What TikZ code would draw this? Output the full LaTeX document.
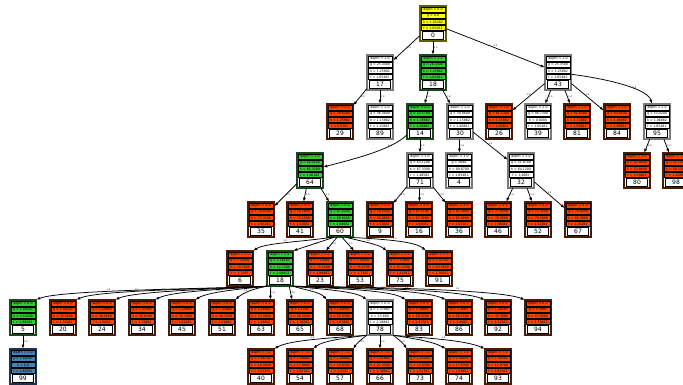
\documentclass[tikz,border=0pt]{standalone}
\usepackage{fontspec}
\setmainfont{DejaVu Sans}
\usetikzlibrary{arrows.meta}
\definecolor{ofill}{HTML}{FF4500}
\definecolor{oframe}{HTML}{4A1C05}
\definecolor{gfill}{HTML}{32CD32}
\definecolor{gframe}{HTML}{1A4A1A}
\definecolor{wfill}{HTML}{FFFFFF}
\definecolor{wframe}{HTML}{7A7A7A}
\definecolor{yfill}{HTML}{FFFF00}
\definecolor{yframe}{HTML}{5E5E10}
\definecolor{bfill}{HTML}{4682B4}
\definecolor{bframe}{HTML}{1E3348}
% #1 name, #2 x, #3 top, #4 kind, #5 number, #6 depth, #7 g, #8 h, #9 f
\newcommand{\tn}[9]{%
\node[tframe, draw=#4frame] (#1) at (#2,#3+17.5) {};
\node[rowbox, fill=#4fill] at (#2,#3+4) {depth = #6};
\node[rowbox, fill=#4fill] at (#2,#3+10) {g = #7};
\node[rowbox, fill=#4fill] at (#2,#3+16) {h = #8};
\node[rowbox, fill=#4fill] at (#2,#3+22) {f = #9};
\node[numbox] at (#2,#3+29.5) {#5};
}
\begin{document}
\begin{tikzpicture}[x=1pt, y=-1pt,
  tframe/.style={line width=1.2pt, fill=white, minimum width=26pt, minimum height=35pt, inner sep=0pt, outer sep=0.3pt},
  rowbox/.style={draw=black, line width=0.35pt, minimum width=24pt, minimum height=5pt, inner sep=0pt, font=\fontsize{3.2}{3.5}\selectfont},
  numbox/.style={draw=black, fill=white, line width=0.9pt, minimum width=21pt, minimum height=8pt, inner sep=0pt, font=\fontsize{6}{7}\selectfont},
  conn/.style={-{Latex[length=4pt,width=3pt]}, line width=0.75pt},
  elab/.style={font=\fontsize{2.2}{2.4}\selectfont, inner sep=0.6pt}]
\useasboundingbox (0,0) rectangle (683,385);
\fill[white] (0,0) rectangle (683,385);
\clip (0,0) rectangle (683,385);
% level 0
\tn{n0}{433}{6}{y}{0}{0.0}{0.0}{1.65482}{1.65482}
% level 1
\tn{n17}{380}{55}{w}{17}{1.0}{25.4400}{1.25882}{1.65482}
\tn{a18}{433}{55}{g}{18}{1.0}{26.3400}{1.25882}{1.65482}
\tn{n43}{558}{55}{w}{43}{1.0}{25.3500}{1.25882}{1.65482}
% level 2
\tn{n29}{340}{104}{o}{29}{2.0}{28.6200}{1.25882}{0.5582}
\tn{n89}{380}{104}{w}{89}{2.0}{36.4800}{1.15882}{1.15882}
\tn{n14}{420}{104}{g}{14}{2.0}{33.5700}{1.38882}{1.38882}
\tn{n30}{460}{104}{w}{30}{2.0}{34.8600}{1.15882}{1.46882}
\tn{n26}{499}{104}{o}{26}{2.0}{61.1300}{1.55882}{1.56882}
\tn{n39}{538}{104}{w}{39}{2.0}{46.7300}{0.0000}{1.65482}
\tn{n81}{577}{104}{o}{81}{2.0}{61.6200}{1.55882}{1.55882}
\tn{n84}{617}{104}{o}{84}{2.0}{63.0100}{1.86882}{1.36882}
\tn{n95}{657}{104}{w}{95}{2.0}{53.4200}{1.06882}{1.65482}
% level 3
\tn{n64}{310}{153}{g}{64}{3.0}{60.4100}{85.3200}{1.46182}
\tn{n71}{420}{153}{w}{71}{3.0}{63.1100}{67.3300}{1.48582}
\tn{n4}{459}{153}{w}{4}{3.0}{5680}{89.8700}{1.65482}
\tn{n32}{521}{153}{w}{32}{3.0}{51.8700}{64.1200}{1.4682}
\tn{n80}{637}{153}{o}{80}{3.0}{52.8600}{52.8600}{1.53882}
\tn{n98}{676}{153}{o}{98}{3.0}{31.1200}{58.2300}{1.12882}
% level 4
\tn{n35}{261}{202}{o}{35}{4.0}{78.8200}{77.3200}{1.95282}
\tn{n41}{300}{202}{o}{41}{4.0}{76.2800}{75.1500}{1.31682}
\tn{n60}{340}{202}{g}{60}{4.0}{67.4200}{68.8200}{1.08682}
\tn{n9}{380}{202}{o}{9}{4.0}{78.2500}{88.0800}{1.51682}
\tn{n16}{419}{202}{o}{16}{4.0}{67.1100}{67.9800}{1.93682}
\tn{n36}{459}{202}{o}{36}{4.0}{81.3800}{65.8800}{1.67382}
\tn{n46}{498}{202}{o}{46}{4.0}{77.9500}{76.5600}{1.58682}
\tn{n52}{538}{202}{o}{52}{4.0}{71.3200}{79.5800}{1.51382}
\tn{n67}{578}{202}{o}{67}{4.0}{76.8200}{66.3800}{1.15282}
% level 5
\tn{n6}{240}{251}{o}{6}{5.0}{1.32082}{18.7600}{1.7583}
\tn{b18}{280}{251}{g}{18}{5.0}{1.16182}{12.7300}{1.08852}
\tn{n23}{320}{251}{o}{23}{5.0}{1.14082}{70.5600}{4.88882}
\tn{n53}{360}{251}{o}{53}{5.0}{1.40882}{76.6700}{1.7382}
\tn{n75}{400}{251}{o}{75}{5.0}{1.14882}{67.4300}{1.43382}
\tn{n91}{439}{251}{o}{91}{5.0}{1.47082}{64.9600}{1.76082}
% level 6
\tn{n5}{23}{300}{g}{5}{6.0}{1.89582}{5.54200}{1.89582}
\tn{n20}{63}{300}{o}{20}{6.0}{1.86582}{35.6800}{1.79282}
\tn{n24}{102}{300}{o}{24}{6.0}{1.20882}{38.5600}{1.5682}
\tn{n34}{142}{300}{o}{34}{6.0}{1.33382}{36.8300}{1.72882}
\tn{n45}{182}{300}{o}{45}{6.0}{1.20882}{36.7800}{1.63282}
\tn{n51}{222}{300}{o}{51}{6.0}{1.33082}{38.3200}{1.53882}
\tn{n63}{261}{300}{o}{63}{6.0}{1.26882}{23.9800}{1.58882}
\tn{n65}{300}{300}{o}{65}{6.0}{1.1582}{46.2400}{1.78282}
\tn{n68}{340}{300}{o}{68}{6.0}{1.60582}{52.4300}{1.87882}
\tn{n78}{380}{300}{w}{78}{6.0}{1.37082}{15.680}{1.18882}
\tn{n83}{419}{300}{o}{83}{6.0}{1.38882}{58.3700}{1.47782}
\tn{n86}{459}{300}{o}{86}{6.0}{1.3882}{58.2500}{1.8882}
\tn{n92}{498}{300}{o}{92}{6.0}{1.28282}{35.3600}{1.51282}
\tn{n94}{538}{300}{o}{94}{6.0}{1.5882}{57.9600}{1.73882}
% level 7
\tn{n99}{23}{349}{b}{99}{7.0}{1.89582}{0.0}{1.89582}
\tn{n40}{261}{349}{o}{40}{7.0}{1.46782}{18.9800}{1.83382}
\tn{n54}{300}{349}{o}{54}{7.0}{1.58082}{17.9800}{1.82182}
\tn{n57}{340}{349}{o}{57}{7.0}{1.49882}{18.8300}{1.6382}
\tn{n66}{380}{349}{o}{66}{7.0}{1.51882}{21.2500}{1.79882}
\tn{n73}{420}{349}{o}{73}{7.0}{1.42282}{12.8300}{1.52382}
\tn{n74}{459}{349}{o}{74}{7.0}{1.40882}{17.6300}{1.63882}
\tn{n93}{498}{349}{o}{93}{7.0}{1.59582}{12.9700}{1.83382}
% ---- edges ----
\draw[conn] (n0) -- node[elab,right]{1.0} (n17);
\draw[conn] (n0) -- node[elab,right]{1.0} (a18);
\draw[conn] (n0) -- node[elab,above]{1.0} (n43);
\draw[conn] (n17) -- node[elab,right]{1.0} (n29);
\draw[conn] (n17) -- node[elab,right]{1.0} (n89);
\draw[conn] (a18) -- node[elab,right]{1.0} (n14);
\draw[conn] (a18) -- node[elab,right]{1.0} (n30);
\draw[conn] (n43) -- node[elab,above]{1.0} (n26);
\draw[conn] (n43) -- node[elab,right]{1.0} (n39);
\draw[conn] (n43) -- node[elab,right]{1.0} (n81);
\draw[conn] (n43) -- node[elab,above]{1.0} (n84);
\draw[conn] (n43) .. controls (615,80) and (648,90) .. (n95) node[elab,above,pos=.6]{1.0};
\draw[conn] (n14) .. controls (392,150) and (350,160) .. (n64) node[elab,above right,pos=.3]{1.0};
\draw[conn] (n14) -- node[elab,right]{1.0} (n71);
\draw[conn] (n30) -- node[elab,right]{1.0} (n4);
\draw[conn] (n30) -- node[elab,above]{1.0} (n32);
\draw[conn] (n95) -- node[elab,right]{1.0} (n80);
\draw[conn] (n95) -- node[elab,right]{1.0} (n98);
\draw[conn] (n64) -- node[elab,right]{1.0} (n35);
\draw[conn] (n64) -- node[elab,right]{1.0} (n41);
\draw[conn] (n64) -- node[elab,right]{1.0} (n60);
\draw[conn] (n71) -- node[elab,right]{1.0} (n9);
\draw[conn] (n71) -- node[elab,right]{1.0} (n16);
\draw[conn] (n71) -- node[elab,right]{1.0} (n36);
\draw[conn] (n32) -- node[elab,right]{1.0} (n46);
\draw[conn] (n32) -- node[elab,right]{1.0} (n52);
\draw[conn] (n32) -- node[elab,above]{1.0} (n67);
% fan of 60
\draw[conn] ([xshift=-8pt]n60.south) .. controls (300,242) and (265,243) .. (n6.north east) node[elab,above,pos=.5]{1.0};
\draw[conn] ([xshift=-6pt]n60.south) -- node[elab,right]{1.0} (b18.north east);
\draw[conn] ([xshift=-3pt]n60.south) -- node[elab,right]{1.0} ([xshift=6pt]n23.north);
\draw[conn] ([xshift=2pt]n60.south) -- node[elab,right]{1.0} ([xshift=-6pt]n53.north);
\draw[conn] ([xshift=6pt]n60.south) .. controls (360,241) and (378,244) .. (n75.north west) node[elab,above,pos=.5]{1.0};
\draw[conn] ([xshift=9pt]n60.south) .. controls (380,239) and (415,241) .. (n91.north west) node[elab,above,pos=.5]{1.0};
% fan of 18 (level 5)
\draw[conn] (b18.south west) .. controls (200,289) and (60,290) .. (n5.north east) node[elab,above,pos=.6]{1.0};
\draw[conn] (b18.south west) .. controls (210,289) and (98,290) .. (n20.north east) node[elab,above,pos=.6]{1.0};
\draw[conn] (b18.south west) .. controls (220,289) and (135,291) .. (n24.north east) node[elab,above,pos=.6]{1.0};
\draw[conn] (b18.south west) .. controls (230,289) and (172,291) .. (n34.north east) node[elab,above,pos=.6]{1.0};
\draw[conn] (b18.south west) .. controls (240,289) and (208,292) .. (n45.north east) node[elab,above,pos=.6]{1.0};
\draw[conn] (b18.south west) .. controls (252,289) and (243,293) .. (n51.north east) node[elab,above,pos=.6]{1.0};
\draw[conn] ([xshift=4pt]b18.south west) -- node[elab,right]{1.0} ([xshift=-4pt]n63.north east);
\draw[conn] ([xshift=-4pt]b18.south east) -- node[elab,right]{1.0} ([xshift=-8pt]n65.north);
\draw[conn] (b18.south east) .. controls (305,290) and (320,292) .. (n68.north west) node[elab,above,pos=.5]{1.0};
\draw[conn] (b18.south east) .. controls (320,289) and (355,291) .. (n78.north west) node[elab,above,pos=.5]{1.0};
\draw[conn] (b18.south east) .. controls (335,288.5) and (390,290) .. (n83.north west) node[elab,above,pos=.5]{1.0};
\draw[conn] (b18.south east) .. controls (350,288) and (425,290) .. (n86.north west) node[elab,above,pos=.5]{1.0};
\draw[conn] (b18.south east) .. controls (365,287.5) and (460,290) .. (n92.north west) node[elab,above,pos=.5]{1.0};
\draw[conn] (b18.south east) .. controls (380,287) and (500,290) .. (n94.north west) node[elab,above,pos=.6]{1.0};
% 5 -> 99
\draw[conn] (n5) -- node[elab,right]{1.0} (n99);
% fan of 78
\draw[conn] (n78.south west) .. controls (330,338) and (290,340) .. (n40.north east) node[elab,above,pos=.5]{1.0};
\draw[conn] (n78.south west) .. controls (345,338) and (322,341) .. (n54.north east) node[elab,above,pos=.5]{1.0};
\draw[conn] (n78.south west) .. controls (362,339) and (357,343) .. (n57.north east) node[elab,right,pos=.5]{1.0};
\draw[conn] (n78) -- node[elab,right]{1.0} (n66);
\draw[conn] (n78.south east) .. controls (398,339) and (403,343) .. (n73.north west) node[elab,right,pos=.5]{1.0};
\draw[conn] (n78.south east) .. controls (410,338) and (432,341) .. (n74.north west) node[elab,above,pos=.5]{1.0};
\draw[conn] (n78.south east) .. controls (425,338) and (465,340) .. (n93.north west) node[elab,above,pos=.5]{1.0};
\end{tikzpicture}
\end{document}
